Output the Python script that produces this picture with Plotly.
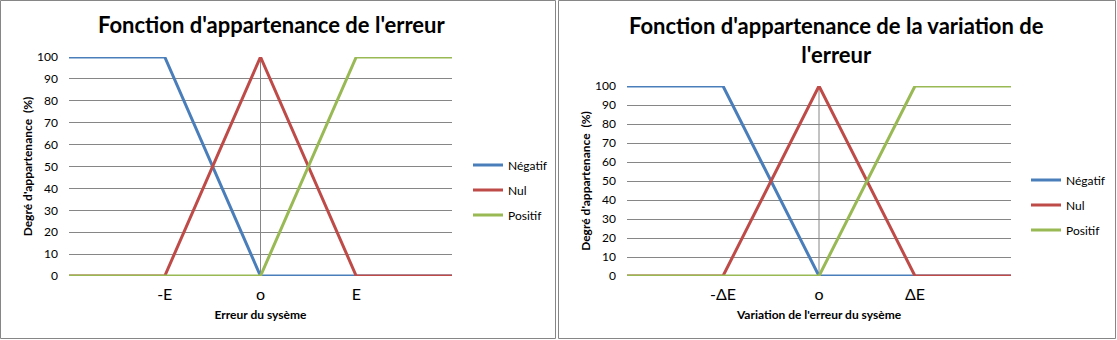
import plotly.graph_objects as go

# ---- data ----
x_index = [0, 1, 2, 3, 4]
ticks_err = ["", "-E", "o", "E", ""]
ticks_var = ["", "-\u0394E", "o", "\u0394E", ""]
negatif = [100, 100, 0, 0, 0]
nul = [0, 0, 100, 0, 0]
positif = [0, 0, 0, 100, 100]
series_names = ["Négatif", "Nul", "Positif"]
series_colors = ["#4A7EBB", "#BE4B48", "#98B954"]
y_ticks = list(range(0, 101, 10))

title_left = "Fonction d'appartenance de l'erreur"
title_right = "Fonction d'appartenance de la variation de<br>l'erreur"
xtitle_left = "Erreur du sysème"
xtitle_right = "Variation de l'erreur du sysème"
ytitle = "Degré d'appartenance  (%)"

W, H = 1117, 340
FONT = "Lato, 'Open Sans', sans-serif"
GRID = "#868686"

def px(x):
    return x / W

def py(y):
    return 1 - y / H

fig = go.Figure()
for data, name, color in zip([negatif, nul, positif], series_names, series_colors):
    fig.add_trace(go.Scatter(x=x_index, y=data, mode="lines", name=name,
                             line=dict(color=color, width=3),
                             xaxis="x", yaxis="y", legend="legend",
                             legendgroup="L" + name))
for data, name, color in zip([negatif, nul, positif], series_names, series_colors):
    fig.add_trace(go.Scatter(x=x_index, y=data, mode="lines", name=name,
                             line=dict(color=color, width=3),
                             xaxis="x2", yaxis="y2", legend="legend2",
                             legendgroup="R" + name))

xcommon = dict(range=[0, 4], tickmode="array", tickvals=x_index,
               showgrid=False, zeroline=False, showline=False, ticks="",
               automargin=False, ticklabelstandoff=7,
               tickfont=dict(family=FONT, size=16, color="black"),
               title_font=dict(family=FONT, size=12, color="black"),
               title_standoff=8)
ycommon = dict(range=[0, 100], tickmode="array", tickvals=y_ticks,
               showgrid=True, gridcolor=GRID, gridwidth=1, zeroline=False,
               showline=False, ticks="", ticklabelstandoff=10,
               automargin=False,
               tickfont=dict(family=FONT, size=12, color="black"),
               title_font=dict(family=FONT, size=12, color="black"),
               title_standoff=1)

fig.update_layout(
    template="none",
    width=W, height=H,
    margin=dict(l=0, r=0, t=0, b=0, pad=0),
    paper_bgcolor="white", plot_bgcolor="white",
    showlegend=True,
    xaxis=dict(domain=[px(69), px(452)], anchor="y", ticktext=ticks_err,
               title_text="<b>" + xtitle_left + "</b>", **xcommon),
    yaxis=dict(domain=[py(276), py(57)], anchor="x",
               title_text="<b>" + ytitle + "</b>", **ycommon),
    xaxis2=dict(domain=[px(627), px(1011)], anchor="y2", ticktext=ticks_var,
                title_text="<b>" + xtitle_right + "</b>", **xcommon),
    yaxis2=dict(domain=[py(276), py(86)], anchor="x2",
                title_text="<b>" + ytitle + "</b>", **ycommon),
    legend=dict(x=px(468), y=py(190), xanchor="left", yanchor="middle",
                font=dict(family=FONT, size=12, color="black"),
                tracegroupgap=6, bgcolor="rgba(0,0,0,0)", borderwidth=0),
    legend2=dict(x=px(1026), y=py(205), xanchor="left", yanchor="middle",
                 font=dict(family=FONT, size=12, color="black"),
                 tracegroupgap=6, bgcolor="rgba(0,0,0,0)", borderwidth=0),
    annotations=[
        dict(text="<b>" + title_left + "</b>", xref="paper", yref="paper",
             x=px(272), y=py(25), xanchor="center", yanchor="middle",
             showarrow=False, font=dict(family=FONT, size=22, color="black")),
        dict(text="<b>" + title_right + "</b>", xref="paper", yref="paper",
             x=px(836), y=py(40), xanchor="center", yanchor="middle",
             showarrow=False, font=dict(family=FONT, size=22, color="black")),
    ],
    shapes=[
        # chart borders
        dict(type="rect", xref="paper", yref="paper",
             x0=px(0.5), x1=px(555.5), y0=py(338.5), y1=py(0.5),
             line=dict(color=GRID, width=1), layer="below"),
        dict(type="rect", xref="paper", yref="paper",
             x0=px(558.5), x1=px(1115.5), y0=py(338.5), y1=py(0.5),
             line=dict(color=GRID, width=1), layer="below"),
        # vertical axis lines crossing at the middle category
        dict(type="line", xref="x", yref="y", x0=2, x1=2, y0=0, y1=100,
             line=dict(color=GRID, width=1), layer="below"),
        dict(type="line", xref="x2", yref="y2", x0=2, x1=2, y0=0, y1=100,
             line=dict(color=GRID, width=1), layer="below"),
    ],
)

fig.write_html("out.html")
